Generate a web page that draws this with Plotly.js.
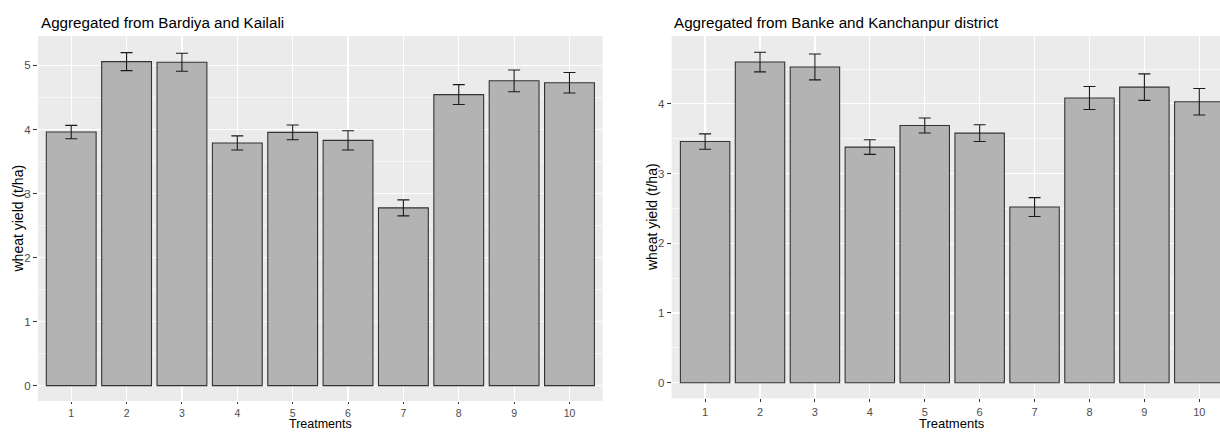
<!DOCTYPE html>
<html>
<head>
<meta charset="utf-8">
<script src="https://cdn.plot.ly/plotly-3.0.1.min.js"></script>
<style>html,body{margin:0;padding:0;background:#fff;}#chart{width:1220px;height:432px;}</style>
</head>
<body>
<div id="chart"></div>
<script>
// ---- data ----
const treatments = [1, 2, 3, 4, 5, 6, 7, 8, 9, 10];
const tickLabels = ["1", "2", "3", "4", "5", "6", "7", "8", "9", "10"];
const bardiyaKailaliYield = [3.96, 5.06, 5.05, 3.79, 3.955, 3.83, 2.776, 4.545, 4.76, 4.73];
const bardiyaKailaliSE = [0.105, 0.14, 0.14, 0.11, 0.115, 0.15, 0.125, 0.155, 0.17, 0.16];
const bankeKanchanpurYield = [3.46, 4.60, 4.53, 3.38, 3.69, 3.58, 2.52, 4.085, 4.24, 4.03];
const bankeKanchanpurSE = [0.11, 0.14, 0.185, 0.105, 0.107, 0.12, 0.135, 0.165, 0.19, 0.19];
const panelTitles = ["Aggregated from Bardiya and Kailali", "Aggregated from Banke and Kanchanpur district"];
const xTitle = "Treatments";
const yTitle = "wheat yield (t/ha)";

// ---- layout helpers ----
const W = 1220, H = 432;
const px = x => x / W;
const py = y => 1 - y / H;
const FONT = "Liberation Sans, Arial, sans-serif";

function barTrace(y, se, xa, ya) {
  return {
    type: "bar", x: treatments, y: y, xaxis: xa, yaxis: ya,
    marker: {color: "#b3b3b3", line: {color: "#333333", width: 1.1}},
    error_y: {type: "data", array: se, visible: true, color: "#1a1a1a", thickness: 1.1, width: 6},
    hoverinfo: "x+y", showlegend: false
  };
}

const gridY = {
  showgrid: true, gridcolor: "#ffffff", gridwidth: 1.2,
  minor: {dtick: 0.5, showgrid: true, gridcolor: "#ffffff", gridwidth: 0.6, ticks: ""},
  zeroline: false, tick0: 0, dtick: 1,
  ticks: "outside", ticklen: 4, tickcolor: "#333333", tickwidth: 1,
  tickfont: {family: FONT, size: 11.5, color: "#4d4d4d"},
  showline: false, fixedrange: true
};
const gridX = {
  tickmode: "array", tickvals: treatments, ticktext: tickLabels,
  showgrid: true, gridcolor: "#ffffff", gridwidth: 1.2, zeroline: false,
  ticks: "outside", ticklen: 3, tickcolor: "#333333", tickwidth: 1,
  tickfont: {family: FONT, size: 11, color: "#4d4d4d"},
  showline: false, fixedrange: true
};

const layout = {
  width: W, height: H,
  margin: {l: 0, r: 0, t: 0, b: 0},
  paper_bgcolor: "#ffffff",
  plot_bgcolor: "#ebebeb",
  bargap: 0.1,
  showlegend: false,
  xaxis: Object.assign({}, gridX, {domain: [px(38), px(602.7)], range: [0.4, 10.6], anchor: "y", ticklen: 2,
    tickfont: {family: FONT, size: 10.5, color: "#4d4d4d"}}),
  yaxis: Object.assign({}, gridY, {domain: [py(401), py(36)], range: [-0.24, 5.46], anchor: "x"}),
  xaxis2: Object.assign({}, gridX, {domain: [px(671.6), 1], range: [0.39, 10.377], anchor: "y2"}),
  yaxis2: Object.assign({}, gridY, {domain: [py(398.3), py(36)], range: [-0.224, 4.974], anchor: "x2"}),
  annotations: [
    {text: panelTitles[0], xref: "paper", yref: "paper", x: px(38.5), y: py(22), xanchor: "left", yanchor: "middle",
     showarrow: false, font: {family: FONT, size: 15.2, color: "#000000"}},
    {text: panelTitles[1], xref: "paper", yref: "paper", x: px(672), y: py(22), xanchor: "left", yanchor: "middle",
     showarrow: false, font: {family: FONT, size: 15.2, color: "#000000"}},
    {text: xTitle, xref: "paper", yref: "paper", x: px(320.4), y: 0, xanchor: "center", yanchor: "bottom",
     borderpad: 0, showarrow: false, font: {family: FONT, size: 12.5, color: "#000000"}},
    {text: xTitle, xref: "paper", yref: "paper", x: px(951.8), y: 0, xanchor: "center", yanchor: "bottom",
     borderpad: 0, showarrow: false, font: {family: FONT, size: 13, color: "#000000"}},
    {text: yTitle, xref: "paper", yref: "paper", x: px(17.5), y: py(219), xanchor: "center", yanchor: "middle",
     textangle: -90, showarrow: false, font: {family: FONT, size: 14, color: "#000000"}},
    {text: yTitle, xref: "paper", yref: "paper", x: px(652), y: py(217), xanchor: "center", yanchor: "middle",
     textangle: -90, showarrow: false, font: {family: FONT, size: 14, color: "#000000"}}
  ]
};

Plotly.newPlot("chart", [
  barTrace(bardiyaKailaliYield, bardiyaKailaliSE, "x", "y"),
  barTrace(bankeKanchanpurYield, bankeKanchanpurSE, "x2", "y2")
], layout, {displayModeBar: false, staticPlot: true});
</script>
</body>
</html>
